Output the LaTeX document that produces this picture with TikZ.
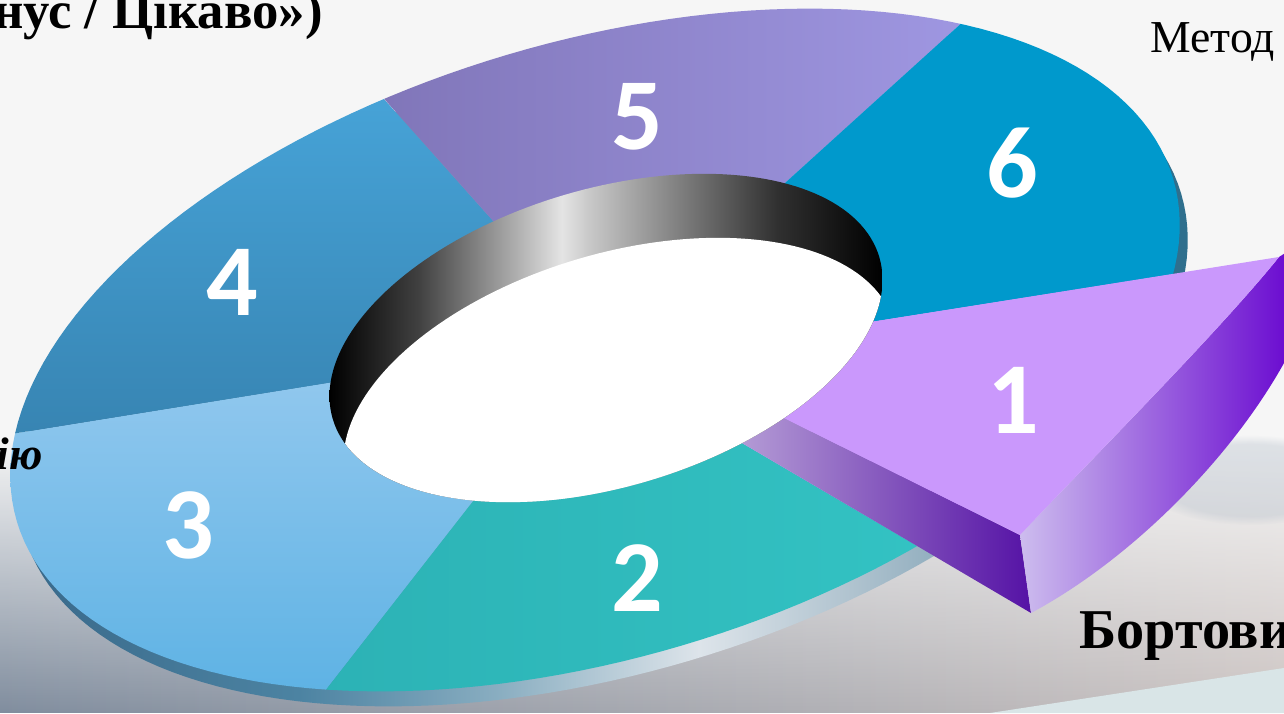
\documentclass[tikz,border=0pt]{standalone}
\usepackage{fontspec}
\setmainfont{Liberation Serif}
\newfontfamily\digitfont{Carlito}
\usetikzlibrary{fadings}
\definecolor{bgtop}{HTML}{F6F6F6}
\definecolor{floorL}{HTML}{808D9E}
\definecolor{floorM}{HTML}{B7B5B8}
\definecolor{floorR}{HTML}{CCC4C2}
\definecolor{bglight}{HTML}{D9E5E7}
\definecolor{streakc}{HTML}{9AA9BB}
\definecolor{wB}{HTML}{404040}
\definecolor{wC}{HTML}{B0B0B0}
\definecolor{wD}{HTML}{E4E4E4}
\definecolor{wE}{HTML}{C8C8C8}
\definecolor{wF}{HTML}{808080}
\definecolor{wG}{HTML}{303030}
\definecolor{rA}{HTML}{39698A}
\definecolor{rB}{HTML}{4C83A2}
\definecolor{rC}{HTML}{8AAEC1}
\definecolor{rD}{HTML}{DDE4EA}
\definecolor{rE}{HTML}{B0C3CF}
\definecolor{rF}{HTML}{7B9FB3}
\definecolor{rG}{HTML}{2F6F8D}
\definecolor{segA}{HTML}{97CAEF}
\definecolor{segB}{HTML}{5DB2E4}
\definecolor{segC}{HTML}{48A6DB}
\definecolor{segD}{HTML}{3784B2}
\definecolor{segE}{HTML}{7C71B3}
\definecolor{segF}{HTML}{A098E3}
\definecolor{segG}{HTML}{2CB2B5}
\definecolor{segH}{HTML}{35C7C7}
\definecolor{segsix}{HTML}{0099CC}
\definecolor{segone}{HTML}{CA98FC}
\definecolor{sLa}{HTML}{B59DD6}
\definecolor{sLb}{HTML}{5512A5}
\definecolor{sOa}{HTML}{CDBDEE}
\definecolor{sOm}{HTML}{9C68DE}
\definecolor{sOb}{HTML}{6A0AD0}
\pgfdeclarehorizontalshading{wallshade}{100bp}{color(0bp)=(black); color(25bp)=(black); color(33bp)=(wB); color(42bp)=(wC); color(46bp)=(wD); color(48.5bp)=(wE); color(56.5bp)=(wF); color(65.5bp)=(wG); color(75bp)=(black); color(100bp)=(black)}
\pgfdeclarehorizontalshading{ringside}{100bp}{color(0bp)=(rA); color(25bp)=(rA); color(37bp)=(rB); color(45.6bp)=(rC); color(54.1bp)=(rD); color(60.6bp)=(rE); color(67bp)=(rF); color(71.2bp)=(rG); color(75bp)=(rG); color(100bp)=(rG)}
\tikzset{
  digit/.style={text=white, font=\digitfont\bfseries\fontsize{58}{60}\selectfont, inner sep=0pt},
  lbl/.style={text=black, inner sep=0pt}
}
\begin{document}
\begin{tikzpicture}[x=0.02cm,y=-0.02cm]
\useasboundingbox (0,0) rectangle (1284,713);
% background
\fill[bgtop] (0,0) rectangle (1284,713);
\shade[left color=floorL, middle color=floorM, right color=floorR, path fading=north] (0,440) rectangle (1284,713);
\fill[bglight] (990,713) -- (1284,668) -- (1284,713) -- cycle;
\fill[streakc, path fading=circle with fuzzy edge 20 percent, opacity=0.25] (1250,480) ellipse [x radius=110, y radius=45];
% ring side
\shade[shading=ringside] plot[domain=0:360,samples=181,variable=\t] ({603+603*cos(\t)*0.95882-308*sin(\t)*0.28402},{365-603*cos(\t)*0.28402-308*sin(\t)*0.95882}) -- cycle;
% segments
\begin{scope}
\clip plot[domain=0:360,samples=181,variable=\t] ({595+603*cos(\t)*0.95882-308*sin(\t)*0.28402},{350-603*cos(\t)*0.28402-308*sin(\t)*0.95882}) -- cycle;
\shade[top color=segA, bottom color=segB] (606,338) -- (-20,439) -- (-20,700) -- (318,700) -- (474,500) -- cycle;
\shade[top color=segC, bottom color=segD] (606,338) -- (494,222) -- (349,60) -- (-20,60) -- (-20,439) -- cycle;
\shade[left color=segE, right color=segF] (606,338) -- (494,222) -- (296,0) -- (987,0) -- (785,183) -- cycle;
\fill[segsix] (606,338) -- (785,183) -- (987,0) -- (1200,0) -- (1200,270) -- (871,322) -- cycle;
\shade[left color=segG, right color=segH] (606,338) -- (474,500) -- (318,700) -- (1100,700) -- (1100,653) -- (737,440) -- cycle;
\fill[segone] (606,338) -- (737,440) -- (1100,653) -- (1200,653) -- (1200,270) -- (871,322) -- cycle;
\end{scope}
% exploded segment 1
\shade[left color=sLa, right color=sLb] (737,440) -- (782,417) -- (1020,535) -- (1031,613) -- cycle;
\shade[left color=sOa, middle color=sOm, right color=sOb] (1020,535) .. controls (1110,440) and (1220,330) .. (1279,257) -- (1290,250) -- (1290,360) -- (1284,363) .. controls (1230,460) and (1130,560) .. (1031,613) -- cycle;
\fill[segone] (871,322) -- (1279,257) .. controls (1220,330) and (1110,440) .. (1020,535) -- (782,417) -- (830,360) -- cycle;
% inner wall and hole
\shade[shading=wallshade] plot[domain=0:360,samples=181,variable=\t] ({606+285*cos(\t)*0.95882-149*sin(\t)*0.28402},{338-285*cos(\t)*0.28402-149*sin(\t)*0.95882}) -- cycle;
\begin{scope}
\clip plot[domain=0:360,samples=181,variable=\t] ({606+285*cos(\t)*0.95882-149*sin(\t)*0.28402},{338-285*cos(\t)*0.28402-149*sin(\t)*0.95882}) -- cycle;
\fill[white] plot[domain=0:360,samples=181,variable=\t] ({620+285*cos(\t)*0.95882-149*sin(\t)*0.28402},{402-285*cos(\t)*0.28402-149*sin(\t)*0.95882}) -- cycle;
\end{scope}
% digits
\node[digit] (d5) at (637,117) {5};
\node[digit] (d6) at (1012,163) {6};
\node[digit] (d4) at (232,282) {4};
\node[digit] (d1) at (1013,400) {1};
\node[digit] (d3) at (188,525) {3};
\node[digit] (d2) at (637,578) {2};
% labels
\node[lbl, anchor=base east, font=\bfseries\fontsize{30}{34}\selectfont] (tl) at (323,29) {нус / Цікаво»)};
\node[lbl, anchor=base west, font=\fontsize{26}{30}\selectfont] (tr) at (1150,53) {Метод};
\node[lbl, anchor=base east, font=\bfseries\itshape\fontsize{26}{30}\selectfont] (ml) at (43,469) {ію};
\node[lbl, anchor=base west, font=\bfseries\fontsize{32}{36}\selectfont] (br) at (1079,648) {Бортови};
\end{tikzpicture}
\end{document}
